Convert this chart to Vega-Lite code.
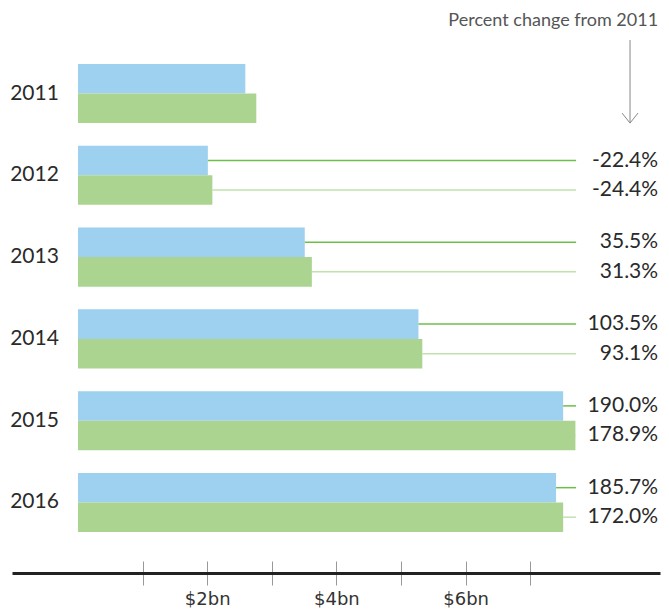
{
  "$schema": "https://vega.github.io/schema/vega-lite/v6.json",
  "padding": {"left": 10, "top": 0, "right": 9, "bottom": 0},
  "autosize": {"type": "pad"},
  "config": {"view": {"stroke": null}, "font": "Lato"},
  "bounds": "flush",
  "spacing": 0,
  "data": {
    "values": [
      {"year": "2011", "series": "Series 1", "value": 2.59, "change": null},
      {"year": "2011", "series": "Series 2", "value": 2.76, "change": null},
      {"year": "2012", "series": "Series 1", "value": 2.01, "change": "-22.4%"},
      {"year": "2012", "series": "Series 2", "value": 2.08, "change": "-24.4%"},
      {"year": "2013", "series": "Series 1", "value": 3.51, "change": "35.5%"},
      {"year": "2013", "series": "Series 2", "value": 3.62, "change": "31.3%"},
      {"year": "2014", "series": "Series 1", "value": 5.27, "change": "103.5%"},
      {"year": "2014", "series": "Series 2", "value": 5.33, "change": "93.1%"},
      {"year": "2015", "series": "Series 1", "value": 7.51, "change": "190.0%"},
      {"year": "2015", "series": "Series 2", "value": 7.70, "change": "178.9%"},
      {"year": "2016", "series": "Series 1", "value": 7.40, "change": "185.7%"},
      {"year": "2016", "series": "Series 2", "value": 7.51, "change": "172.0%"}
    ]
  },
  "vconcat": [
    {
      "width": 648,
      "height": 561,
      "layer": [
        {
          "mark": {"type": "bar"},
          "encoding": {
            "y": {"field": "year", "type": "nominal", "scale": {"paddingInner": 0.278, "paddingOuter": 0.569, "align": 0.688}, "axis": null},
            "yOffset": {"field": "series", "type": "nominal", "scale": {"paddingInner": 0, "paddingOuter": 0}},
            "x": {"field": "value", "type": "quantitative", "scale": {"domain": [-1.0217, 9.009], "nice": false}, "axis": null},
            "fill": {"field": "series", "type": "nominal", "scale": {"range": ["#9ed0ef", "#acd491"]}, "legend": null}
          }
        },
        {
          "transform": [{"filter": "datum.change != null"}],
          "mark": {"type": "rule", "strokeWidth": 1.5},
          "encoding": {
            "y": {"field": "year", "type": "nominal"},
            "yOffset": {"field": "series", "type": "nominal"},
            "x": {"field": "value", "type": "quantitative"},
            "x2": {"datum": 7.71},
            "stroke": {"field": "series", "type": "nominal", "scale": {"range": ["#6dbf4b", "#c1e2ad"]}, "legend": null}
          }
        },
        {
          "transform": [{"filter": "datum.change != null"}],
          "mark": {"type": "text", "align": "right", "baseline": "middle", "fontSize": 21, "color": "#2a2a2a"},
          "encoding": {
            "y": {"field": "year", "type": "nominal"},
            "yOffset": {"field": "series", "type": "nominal"},
            "x": {"datum": 8.98, "type": "quantitative"},
            "text": {"field": "change", "type": "nominal"}
          }
        },
        {
          "transform": [{"filter": "datum.series == 'Series 1'"}],
          "mark": {"type": "text", "align": "left", "baseline": "middle", "fontSize": 21, "color": "#2a2a2a"},
          "encoding": {
            "y": {"field": "year", "type": "nominal"},
            "x": {"datum": -1.05, "type": "quantitative"},
            "text": {"field": "year", "type": "nominal"}
          }
        },
        {
          "data": {"values": [{"label": "Percent change from 2011"}]},
          "mark": {"type": "text", "align": "right", "baseline": "middle", "fontSize": 18, "color": "#555555", "dy": -72.5},
          "encoding": {
            "y": {"datum": "2011", "type": "nominal"},
            "x": {"datum": 8.98, "type": "quantitative"},
            "text": {"field": "label", "type": "nominal"}
          }
        },
        {
          "data": {"values": [{"label": "arrow"}]},
          "mark": {"type": "point", "shape": "M0,-1.289L0,0.711M-0.193,0.47L0,0.711L0.193,0.47", "size": 6889, "filled": false, "stroke": "#888888", "strokeWidth": 1, "opacity": 1},
          "encoding": {
            "y": {"datum": "2011", "type": "nominal"},
            "x": {"datum": 8.545, "type": "quantitative"}
          }
        }
      ]
    },
    {
      "width": 648,
      "height": 12,
      "mark": {"type": "rule", "opacity": 0},
      "encoding": {
        "x": {
          "field": "value",
          "type": "quantitative",
          "scale": {"domain": [-1.0217, 9.009], "nice": false},
          "axis": {
            "title": null,
            "values": [1, 2, 3, 4, 5, 6, 7],
            "labelExpr": "datum.value % 2 == 0 ? '$' + datum.value + 'bn' : ''",
            "domain": true,
            "domainColor": "#222222",
            "domainWidth": 3,
            "ticks": true,
            "tickSize": 12,
            "tickColor": "#999999",
            "tickWidth": 1,
            "grid": true,
            "gridColor": "#999999",
            "gridWidth": 1,
            "gridOpacity": 1,
            "labelFont": "DejaVu Sans",
            "labelFontSize": 18,
            "labelColor": "#333333",
            "labelPadding": 5,
            "labelBaseline": "top",
            "labelFlush": false,
            "labelOverlap": false
          }
        }
      }
    }
  ]
}
